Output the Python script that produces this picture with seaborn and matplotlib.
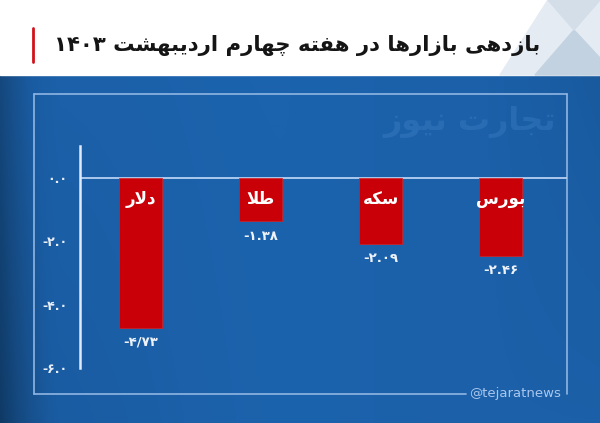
import re
import numpy as np
import pandas as pd
import seaborn as sns
import matplotlib.pyplot as plt
from matplotlib.colors import LinearSegmentedColormap
from matplotlib.patches import Rectangle, Polygon
from matplotlib.lines import Line2D

# data
markets = ['دلار', 'طلا', 'سکه', 'بورس']
returns = [-4.73, -1.38, -2.09, -2.46]
value_labels = ['-۴/۷۳', '-۱.۳۸', '-۲.۰۹', '-۲.۴۶']
y_ticks = [0, -2, -4, -6]
y_ticklabels = ['۰.۰', '-۲.۰', '-۴.۰', '-۶.۰']
title = 'بازدهی بازارها در هفته چهارم اردیبهشت ۱۴۰۳'
watermark = 'تجارت نیوز'
handle = '@tejaratnews'

# minimal persian shaping (matplotlib does no joining / rtl)
FORMS = {
    'ا': ('\uFE8D', '\uFE8E', None, None),
    'ب': ('\uFE8F', '\uFE90', '\uFE91', '\uFE92'),
    'ت': ('\uFE95', '\uFE96', '\uFE97', '\uFE98'),
    'ج': ('\uFE9D', '\uFE9E', '\uFE9F', '\uFEA0'),
    'چ': ('\uFB7A', '\uFB7B', '\uFB7C', '\uFB7D'),
    'د': ('\uFEA9', '\uFEAA', None, None),
    'ر': ('\uFEAD', '\uFEAE', None, None),
    'ز': ('\uFEAF', '\uFEB0', None, None),
    'س': ('\uFEB1', '\uFEB2', '\uFEB3', '\uFEB4'),
    'ش': ('\uFEB5', '\uFEB6', '\uFEB7', '\uFEB8'),
    'ط': ('\uFEC1', '\uFEC2', '\uFEC3', '\uFEC4'),
    'ف': ('\uFED1', '\uFED2', '\uFED3', '\uFED4'),
    'ک': ('\uFB8E', '\uFB8F', '\uFB90', '\uFB91'),
    'ل': ('\uFEDD', '\uFEDE', '\uFEDF', '\uFEE0'),
    'م': ('\uFEE1', '\uFEE2', '\uFEE3', '\uFEE4'),
    'ن': ('\uFEE5', '\uFEE6', '\uFEE7', '\uFEE8'),
    'ه': ('\uFEE9', '\uFEEA', '\uFEEB', '\uFEEC'),
    'و': ('\uFEED', '\uFEEE', None, None),
    'ی': ('\uFBFC', '\uFBFD', '\uFBFE', '\uFBFF'),
}


def joins_left(c):
    return c in FORMS and FORMS[c][2] is not None


def shape(text):
    out = []
    i = 0
    n = len(text)
    while i < n:
        c = text[i]
        if c not in FORMS:
            out.append(c)
            i += 1
            continue
        from_prev = i > 0 and joins_left(text[i - 1])
        if c == 'ل' and i + 1 < n and text[i + 1] == 'ا':
            out.append('\uFEFC' if from_prev else '\uFEFB')
            i += 2
            continue
        to_next = joins_left(c) and i + 1 < n and text[i + 1] in FORMS
        iso, fin, ini, med = FORMS[c]
        if from_prev and to_next:
            out.append(med)
        elif from_prev:
            out.append(fin)
        elif to_next:
            out.append(ini)
        else:
            out.append(iso)
        i += 1
    return ''.join(out)


def rtl(text):
    s = shape(text)[::-1]
    return re.sub(r'[۰-۹0-9./]+', lambda m: m.group(0)[::-1], s)


df = pd.DataFrame({'market': markets, 'return': returns})

sns.set_theme(style='white')
plt.rcParams['font.family'] = ['DejaVu Sans']

fig = plt.figure(figsize=(6, 4.23), dpi=100)

# background layer in pixel coords
bg = fig.add_axes([0, 0, 1, 1])
bg.set_xlim(0, 600)
bg.set_ylim(423, 0)
bg.axis('off')

xx, yy = np.meshgrid(np.linspace(0, 1, 300), np.linspace(0, 1, 200))
grad = 0.85 - 0.15 * yy * np.clip(1 - 2 * xx, 0, 1) - 0.35 * np.clip(1 - xx / 0.1, 0, 1) ** 1.5
grad = grad - 0.15 * np.clip((xx - 0.8) / 0.2, 0, 1) * (1 - yy)
grad = grad + 0.08 * np.exp(-((xx - 0.45) ** 2) / 0.05)
grad = np.clip(grad, 0, 1)
cmap = LinearSegmentedColormap.from_list('bgblue', ['#0f3a66', '#164c85', '#1a5ca2', '#1c63ad'])
bg.imshow(grad, extent=(0, 600, 430, 75), cmap=cmap, aspect='auto', zorder=0)

bg.add_patch(Rectangle((0, 0), 600, 75, color='white', zorder=1))
bg.add_patch(Polygon([(500, 75), (548, 0), (600, 0), (600, 75)], color='#e4ebf2', zorder=2))
bg.add_patch(Polygon([(535, 75), (574, 30), (600, 58), (600, 75)], color='#c3d2e1', zorder=3))
bg.add_patch(Polygon([(548, 0), (600, 0), (574, 30)], color='#d3dee9', zorder=3))
bg.plot([33, 33], [28, 62], color='#d0121b', lw=2, zorder=4)
bg.text(540, 46, rtl(title), ha='right', va='center', fontsize=15.3, fontweight='bold',
        color='#151515', zorder=5)

# frame around the chart
frame_c = '#8fb6e3'
for xs, ys in [([34, 567], [94, 94]), ([34, 34], [94, 394]),
               ([567, 567], [94, 394]), ([34, 466], [394, 394])]:
    bg.add_line(Line2D(xs, ys, color=frame_c, lw=1.2, zorder=4))
bg.text(469, 394, handle, ha='left', va='center', fontsize=9.5, color='#a8c7ee', zorder=5)
bg.text(470, 122, rtl(watermark), ha='center', va='center', fontsize=23, fontweight='bold',
        color='#4a8ad0', alpha=0.3, zorder=5)

# chart
ax = fig.add_axes([80 / 600, 1 - 368 / 423, 487 / 600, (368 - 146) / 423])
ax.set_facecolor('none')
sns.barplot(data=df, x='market', y='return', color='#c90008', saturation=1,
            width=0.36, edgecolor='#d82020', linewidth=0.5, ax=ax, zorder=3)
ax.set_xlim(-0.505, 3.553)
ax.set_ylim(-6, 1)
ax.axhline(0, color='#b7d1f3', lw=1.3, zorder=2)

for s in ['top', 'right', 'bottom']:
    ax.spines[s].set_visible(False)
ax.spines['left'].set_color('#e2eaff')
ax.spines['left'].set_linewidth(1.8)
ax.set_xticks([])
ax.set_yticks(y_ticks)
ax.set_yticklabels(y_ticklabels)
ax.set_yticks([1, -1, -3, -5], minor=True)
ax.tick_params(axis='y', which='both', direction='in', length=4, width=1.5,
               color='#e2eaff', labelcolor='#e9eff9', labelsize=9, pad=9)
for lab in ax.get_yticklabels():
    lab.set_fontweight('bold')
ax.set_xlabel(None)
ax.set_ylabel(None)

for i, (name, val, lab) in enumerate(zip(markets, returns, value_labels)):
    ax.annotate(rtl(name), (i, 0), xytext=(0, -15), textcoords='offset points',
                ha='center', va='center', fontsize=12, fontweight='bold', color='white', zorder=5)
    ax.annotate(lab, (i, val), xytext=(0, -10.5), textcoords='offset points',
                ha='center', va='center', fontsize=9.5, fontweight='bold', color='#eef3fb', zorder=5)

fig.savefig('out.png', dpi=100)
